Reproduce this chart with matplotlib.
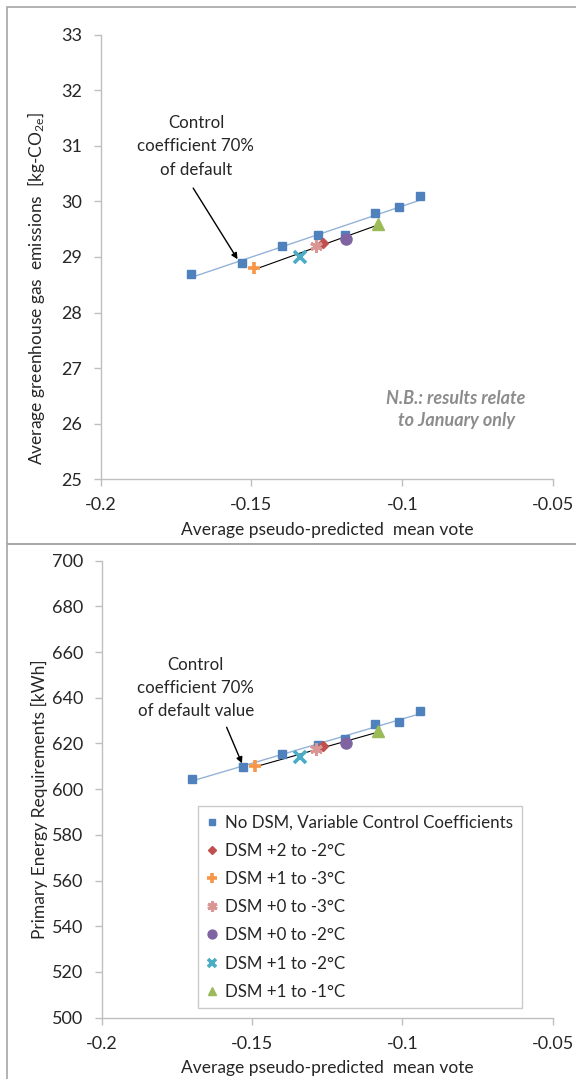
import numpy as np
import matplotlib
matplotlib.use("Agg")
import matplotlib.pyplot as plt
from matplotlib.patches import Rectangle

plt.rcParams['font.family'] = ['Lato', 'DejaVu Sans']
plt.rcParams['mathtext.fontset'] = 'custom'
plt.rcParams['mathtext.rm'] = 'Lato'
plt.rcParams['mathtext.it'] = 'Lato:italic'

# Data: no DSM, variable control coefficients
base_x = [-0.170, -0.153, -0.140, -0.128, -0.119, -0.109, -0.101, -0.094]
base_ghg = [28.7, 28.9, 29.2, 29.4, 29.4, 29.8, 29.9, 30.1]
base_energy = [604.5, 609.6, 615.3, 619.3, 622.0, 628.4, 629.5, 634.2]

# DSM cases
dsm_labels = ["DSM +2 to -2°C", "DSM +1 to -3°C", "DSM +0 to -3°C",
              "DSM +0 to -2°C", "DSM +1 to -2°C", "DSM +1 to -1°C"]
dsm_x = [-0.1264, -0.149, -0.1286, -0.1188, -0.134, -0.108]
dsm_ghg = [29.25, 28.8, 29.2, 29.33, 29.0, 29.6]
dsm_energy = [618.9, 610.2, 617.7, 620.1, 614.2, 625.5]

x_ticks = [-0.2, -0.15, -0.1, -0.05]
x_ticklabels = ["-0.2", "-0.15", "-0.1", "-0.05"]

BLUE = "#4f81bd"
TXT = "#262626"
dsm_styles = [
    dict(marker="D", color="#c0504d", ms=5.5),
    dict(marker="+", color="#f79646", ms=9, mew=2.6),
    dict(marker=(6, 2, 0), color="#d99694", ms=9, mew=2.2),
    dict(marker="o", color="#8064a2", ms=8),
    dict(marker="x", color="#4bacc6", ms=8, mew=2.6),
    dict(marker="^", color="#9bbb59", ms=8),
]

W, H = 576, 1079
fig = plt.figure(figsize=(W / 100, H / 100), dpi=100)

# panel frames
for y0, y1 in [(7, 544), (544, 1090)]:
    fig.patches.append(Rectangle((7 / W, 1 - y1 / H), 1.0, (y1 - y0) / H,
                                 transform=fig.transFigure, fill=False,
                                 edgecolor="#a6a6a6", lw=1.2, zorder=0))


def px_axes(left, top, right, bottom):
    return fig.add_axes([left / W, 1 - bottom / H, (right - left) / W, (bottom - top) / H])


def style_axes(ax, ylim, yticks):
    ax.set_xlim(-0.2, -0.05)
    ax.set_ylim(*ylim)
    ax.set_xticks(x_ticks)
    ax.set_xticklabels(x_ticklabels)
    ax.set_yticks(yticks)
    for s in ["top", "right"]:
        ax.spines[s].set_visible(False)
    for s in ["left", "bottom"]:
        ax.spines[s].set_color("#bfbfbf")
        ax.spines[s].set_linewidth(1.0)
    ax.tick_params(direction="out", length=5, width=1.0, color="#bfbfbf",
                   labelsize=13, labelcolor=TXT, pad=8)
    ax.set_xlabel("Average pseudo-predicted  mean vote", fontsize=12.5,
                  color=TXT, labelpad=6)


def draw_series(ax, ys_base, ys_dsm):
    # linear trend lines for both groups
    c = np.polyfit(base_x, ys_base, 1)
    xs = np.array([min(base_x), max(base_x)])
    ax.plot(xs, np.polyval(c, xs), color="#95b3d7", lw=1.0, zorder=2)
    c2 = np.polyfit(dsm_x, ys_dsm, 1)
    xs2 = np.array([min(dsm_x), max(dsm_x)])
    ax.plot(xs2, np.polyval(c2, xs2), color="black", lw=0.8, zorder=2)
    ax.plot(base_x, ys_base, ls="none", marker="s", ms=6, color=BLUE,
            label="No DSM, Variable Control Coefficients", zorder=3)
    for x, y, lab, st in zip(dsm_x, ys_dsm, dsm_labels, dsm_styles):
        ax.plot([x], [y], ls="none", label=lab, zorder=4, **st)


def arrow(ax, start, end):
    ax.annotate("", xy=end, xytext=start,
                arrowprops=dict(arrowstyle="-|>", color="black", lw=1.0,
                                shrinkA=0, shrinkB=0, mutation_scale=9))


# top: greenhouse gas emissions
ax1 = px_axes(100.5, 34.7, 553.3, 479.3)
style_axes(ax1, (25, 33), np.arange(25, 34, 1))
draw_series(ax1, base_ghg, dsm_ghg)
ax1.set_ylabel("Average greenhouse gas  emissions  [kg-CO$_{\\mathrm{2e}}$]",
               fontsize=12.5, color=TXT)
ax1.yaxis.set_label_coords(-0.118, 0.43)
ax1.text(-0.1684, 30.99, "Control\ncoefficient 70%\nof default", ha="center",
         va="center", fontsize=12.2, color=TXT, linespacing=1.55)
arrow(ax1, (-0.1693, 30.24), (-0.1546, 28.96))
ax1.text(-0.0822, 26.25, "N.B.: results relate\nto January only", ha="center",
         va="center", fontsize=13, style="italic", weight="bold",
         color="#8c8c8c", linespacing=1.35)

# bottom: primary energy
ax2 = px_axes(101.5, 560.7, 552.7, 1017.7)
style_axes(ax2, (500, 700), np.arange(500, 701, 20))
draw_series(ax2, base_energy, dsm_energy)
ax2.set_ylabel("Primary Energy Requirements [kWh]", fontsize=12.5, color=TXT)
ax2.yaxis.set_label_coords(-0.118, 0.478)
ax2.text(-0.1687, 644.2, "Control\ncoefficient 70%\nof default value", ha="center",
         va="center", fontsize=12.2, color=TXT, linespacing=1.55)
arrow(ax2, (-0.1584, 627.1), (-0.1533, 611.3))
leg = ax2.legend(loc="lower left", bbox_to_anchor=((198 - 101.5) / 451.2, (1017.7 - 1008.3) / 457),
                 frameon=True, fancybox=False, fontsize=12.2, labelspacing=0.72,
                 handlelength=0.6, handletextpad=0.5, borderpad=0.5,
                 borderaxespad=0, markerscale=0.8, labelcolor=TXT)
leg.get_frame().set_edgecolor("#bfbfbf")
leg.get_frame().set_linewidth(1.0)

fig.savefig("out.png", dpi=100)
